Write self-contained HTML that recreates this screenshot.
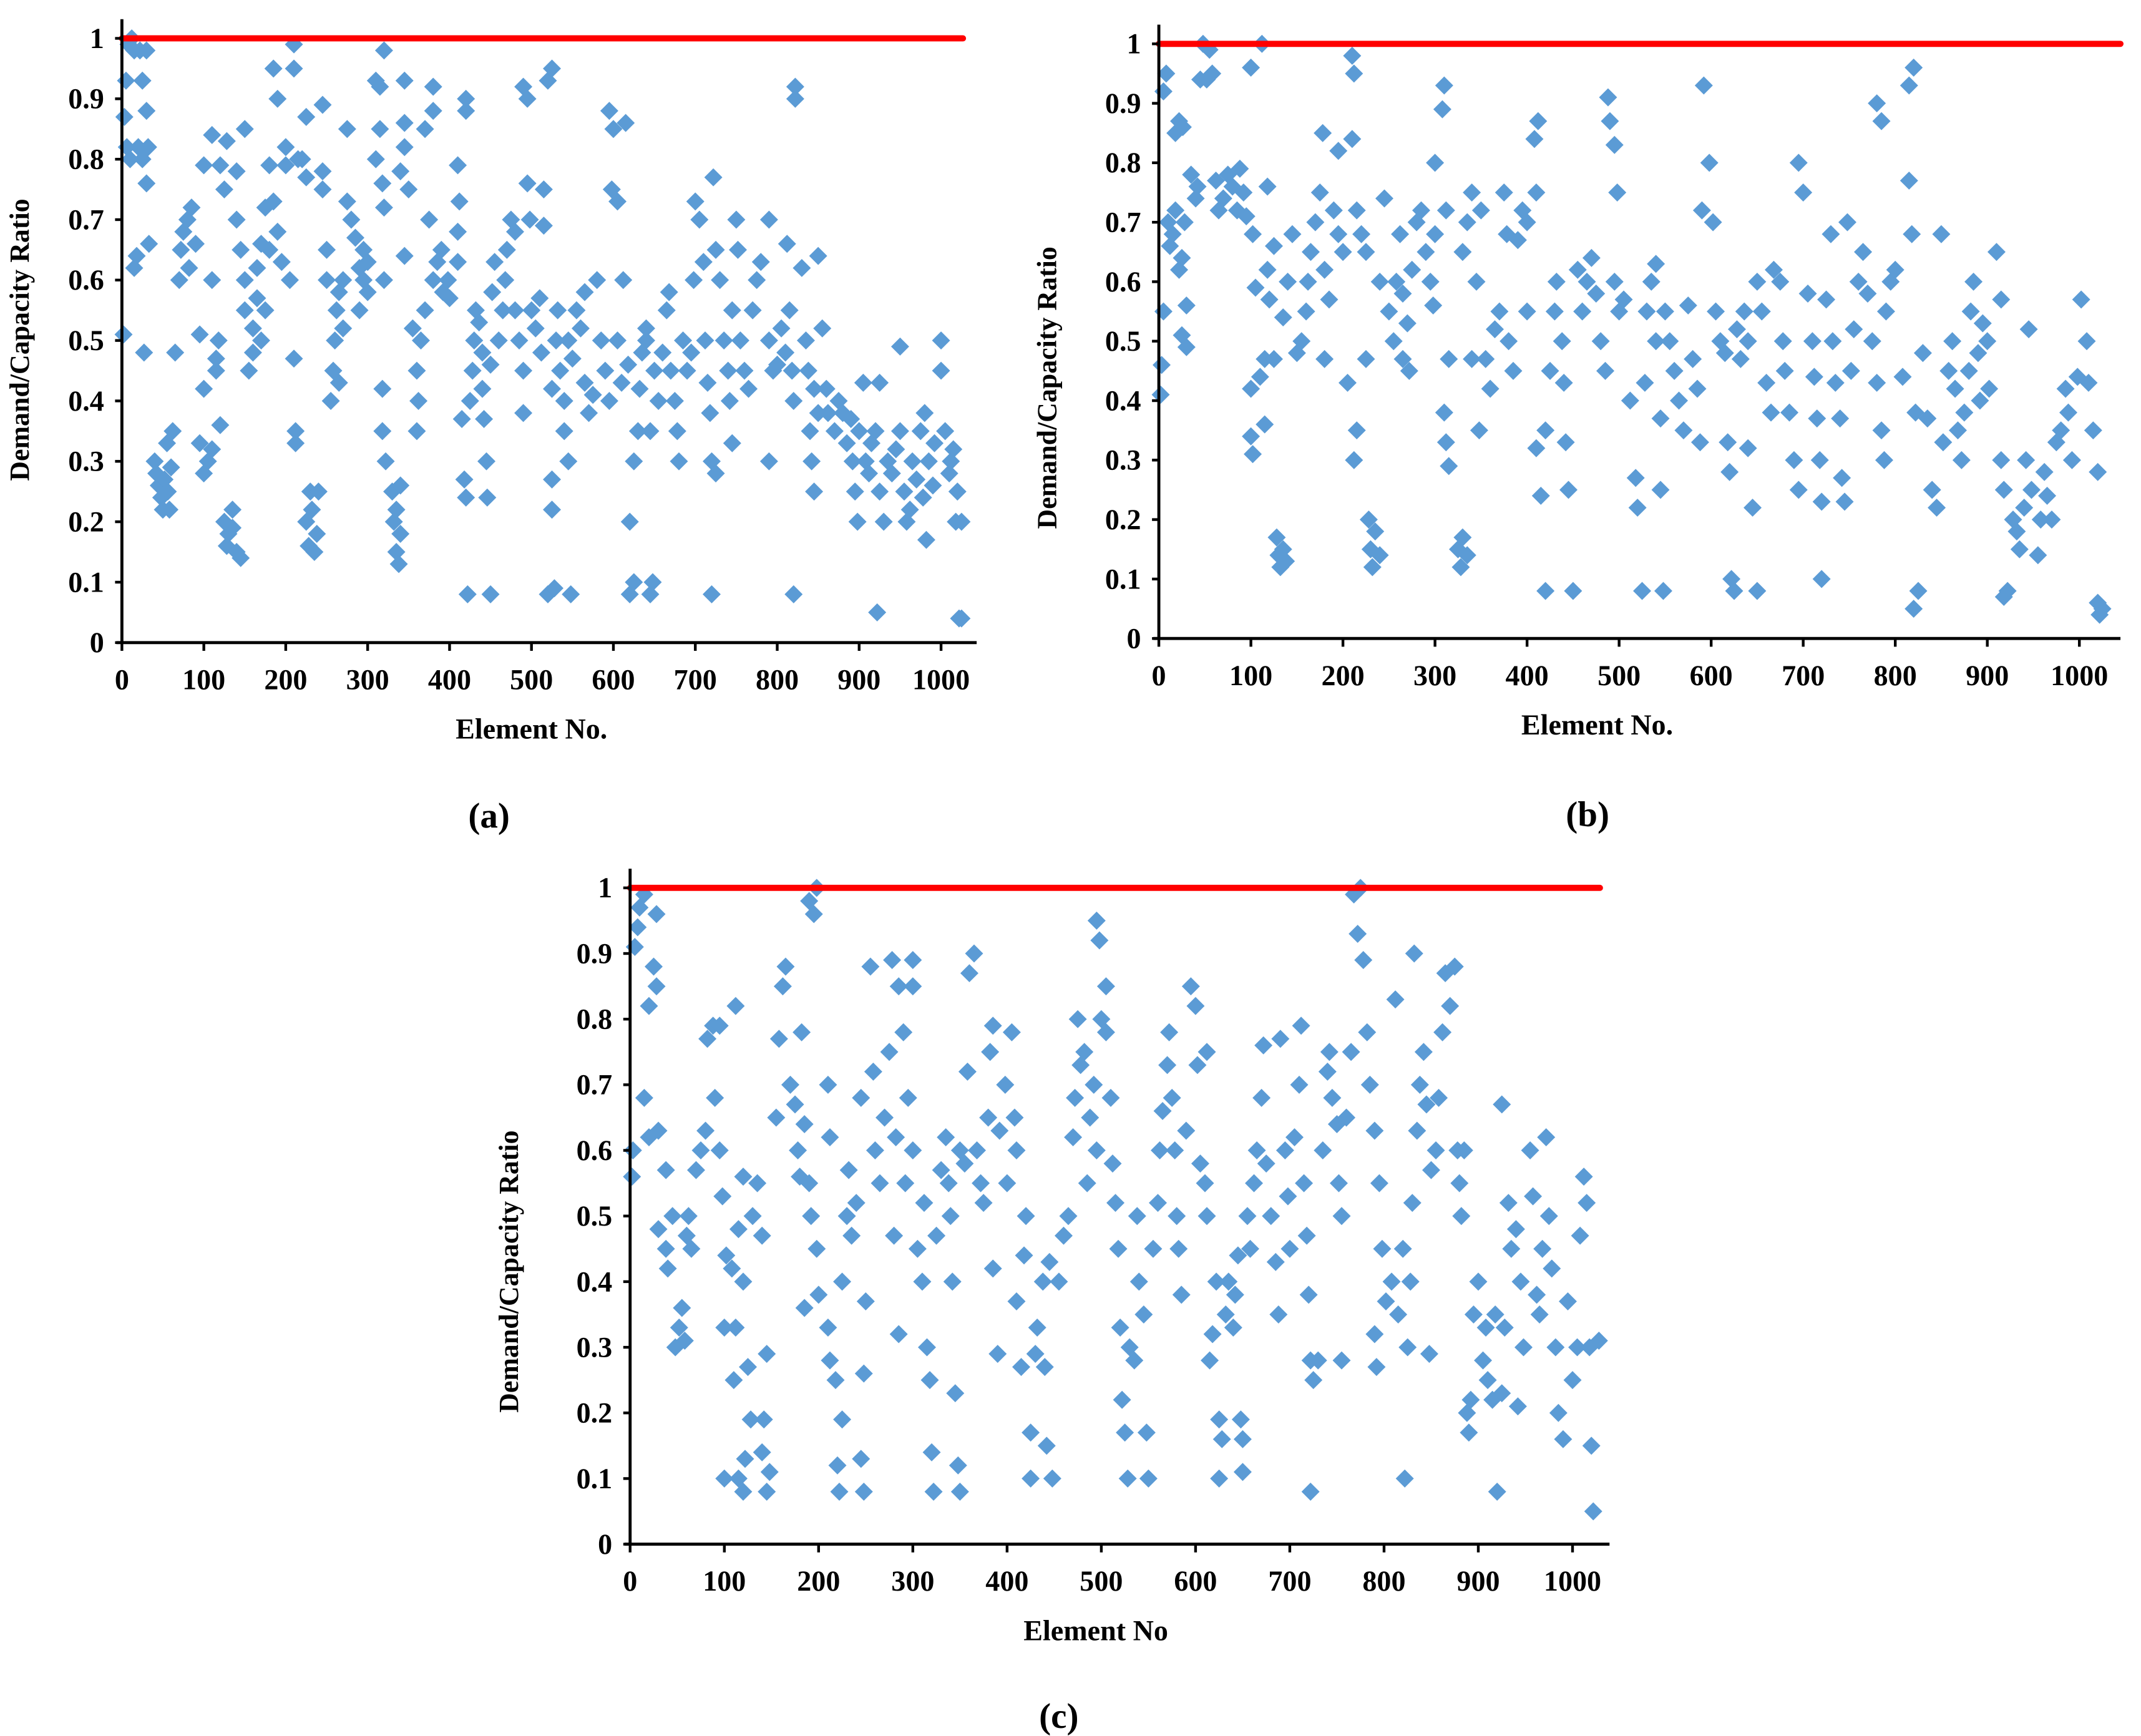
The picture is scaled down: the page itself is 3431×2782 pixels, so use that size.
<!DOCTYPE html>
<html><head><meta charset="utf-8"><style>
html,body{margin:0;padding:0;background:#fff;}
svg{display:block;}
svg text{font-family:"Liberation Serif","Times New Roman",serif;font-weight:bold;fill:#000;}
</style></head><body>
<svg id="chart" width="3431" height="2782" viewBox="0 0 1563 1267" preserveAspectRatio="none" xmlns="http://www.w3.org/2000/svg"></svg>
<script>
const xTicks = [0,100,200,300,400,500,600,700,800,900,1000];
const yTicks = [0,0.1,0.2,0.3,0.4,0.5,0.6,0.7,0.8,0.9,1];
const yTickLabels = ["0","0.1","0.2","0.3","0.4","0.5","0.6","0.7","0.8","0.9","1"];
const limitValue = 1;
const pointsA = [[2,0.51],[3,0.87],[5,0.93],[6,0.82],[10,0.8],[8,0.99],[12,1.0],[15,0.98],[15,0.62],[18,0.64],[20,0.82],[22,0.98],[25,0.93],[25,0.8],[27,0.48],[30,0.88],[30,0.76],[32,0.82],[33,0.66],[30,0.98],
[40,0.3],[42,0.28],[45,0.26],[48,0.24],[50,0.22],[55,0.33],[52,0.27],[56,0.25],[58,0.22],[60,0.29],[62,0.35],
[65,0.48],[70,0.6],[72,0.65],[75,0.68],[80,0.7],[82,0.62],[85,0.72],[90,0.66],[95,0.51],[100,0.42],[95,0.33],[100,0.28],[100,0.79],[105,0.3],
[110,0.84],[110,0.6],[115,0.47],[118,0.5],[115,0.45],[120,0.36],[110,0.32],[120,0.79],[125,0.75],[128,0.83],[125,0.2],[128,0.16],[130,0.18],[135,0.22],[140,0.15],[135,0.19],[145,0.14],[140,0.78],[140,0.7],[145,0.65],[150,0.85],[150,0.55],[150,0.6],
[155,0.45],[160,0.48],[160,0.52],[165,0.57],[165,0.62],[170,0.5],[170,0.66],[175,0.72],[180,0.79],[185,0.95],[185,0.73],[190,0.68],[195,0.63],[200,0.82],[200,0.79],[205,0.6],[180,0.65],[175,0.55],[190,0.9],
[210,0.99],[210,0.95],[210,0.47],[212,0.35],[212,0.33],[215,0.8],[220,0.8],[225,0.77],[225,0.87],[225,0.2],[228,0.16],[230,0.25],[232,0.22],[235,0.15],[238,0.18],[240,0.25],[245,0.78],[245,0.75],[245,0.89],[250,0.6],[250,0.65],[255,0.4],
[258,0.45],[260,0.5],[262,0.55],[265,0.43],[265,0.58],[270,0.52],[270,0.6],[275,0.85],[275,0.73],[280,0.7],[285,0.67],[290,0.62],[295,0.6],[290,0.55],[295,0.65],[300,0.58],[300,0.63],
[310,0.93],[320,0.98],[315,0.92],[310,0.8],[318,0.76],[315,0.85],[320,0.72],[320,0.6],[318,0.42],[318,0.35],[322,0.3],[330,0.25],[332,0.2],[335,0.15],[338,0.13],[340,0.18],[335,0.22],[340,0.26],[340,0.78],[345,0.82],[345,0.86],[345,0.93],[350,0.75],[345,0.64],
[355,0.52],[360,0.45],[362,0.4],[360,0.35],[365,0.5],[370,0.55],[375,0.7],[380,0.88],[380,0.92],[380,0.6],[385,0.63],[390,0.65],[392,0.58],[398,0.6],[400,0.57],[370,0.85],
[410,0.79],[410,0.68],[412,0.73],[410,0.63],[420,0.88],[420,0.9],[415,0.37],[418,0.27],[420,0.24],[422,0.08],[425,0.4],[428,0.45],[430,0.5],[432,0.55],[436,0.53],[440,0.48],[440,0.42],[442,0.37],[445,0.3],[446,0.24],[450,0.08],[450,0.46],[452,0.58],[455,0.63],
[460,0.5],[465,0.55],[468,0.6],[470,0.65],[475,0.7],[480,0.68],[480,0.55],[485,0.5],[490,0.45],[490,0.38],[490,0.92],[495,0.9],[495,0.76],[498,0.7],[500,0.55],[505,0.52],
[510,0.57],[512,0.48],[515,0.69],[515,0.75],[520,0.93],[525,0.95],[520,0.08],[528,0.09],[525,0.27],[525,0.22],[525,0.42],[530,0.5],[532,0.55],[535,0.45],[540,0.4],[540,0.35],[545,0.3],[548,0.08],[545,0.5],[550,0.47],
[555,0.55],[560,0.52],[565,0.58],[565,0.43],[570,0.38],[575,0.41],[580,0.6],[585,0.5],[590,0.45],[595,0.4],[598,0.75],[595,0.88],[600,0.85],
[605,0.73],[605,0.5],[610,0.43],[612,0.6],[615,0.86],[618,0.46],[620,0.2],[620,0.08],[625,0.1],[625,0.3],[630,0.35],[632,0.42],[635,0.48],[640,0.5],[640,0.52],[645,0.08],[648,0.1],[645,0.35],[650,0.45],[655,0.4],
[660,0.48],[665,0.55],[668,0.58],[670,0.45],[675,0.4],[678,0.35],[680,0.3],[685,0.5],[690,0.45],[695,0.48],[698,0.6],[700,0.73],
[705,0.7],[710,0.63],[712,0.5],[715,0.43],[718,0.38],[720,0.3],[725,0.28],[720,0.08],[722,0.77],[725,0.65],[730,0.6],[735,0.5],[740,0.45],[742,0.4],[745,0.33],[745,0.55],[750,0.7],[752,0.65],
[755,0.5],[760,0.45],[765,0.42],[770,0.55],[775,0.6],[780,0.63],[790,0.7],[790,0.5],[795,0.45],[790,0.3],[800,0.46],[805,0.52],[810,0.48],
[812,0.66],[815,0.55],[818,0.45],[820,0.4],[820,0.08],[822,0.92],[822,0.9],[830,0.62],[835,0.5],[838,0.45],[840,0.35],[842,0.3],[845,0.25],[845,0.42],[850,0.64],[850,0.38],
[855,0.52],[860,0.42],[862,0.38],[870,0.35],[875,0.4],[880,0.38],[885,0.33],[890,0.37],[892,0.3],[895,0.25],[898,0.2],[900,0.35],
[905,0.43],[908,0.3],[912,0.28],[915,0.33],[920,0.35],[922,0.05],[925,0.43],[925,0.25],[930,0.2],[935,0.3],[940,0.28],[945,0.32],[950,0.35],[950,0.49],
[955,0.25],[958,0.2],[962,0.22],[965,0.3],[970,0.27],[975,0.35],[978,0.24],[980,0.38],[982,0.17],[985,0.3],[990,0.26],[992,0.33],[1000,0.5],[1000,0.45],[1005,0.35],[1010,0.28],[1012,0.3],[1015,0.32],[1018,0.2],[1020,0.25],[1022,0.04],[1025,0.04],[1025,0.2]];
const pointsB = [[2,0.41],[3,0.46],[5,0.55],[5,0.92],[8,0.95],[10,0.7],[12,0.66],[15,0.68],[18,0.72],[18,0.85],[22,0.87],[26,0.86],[22,0.62],[25,0.51],[30,0.49],[30,0.56],[28,0.7],[25,0.64],
[35,0.78],[40,0.74],[42,0.76],[45,0.94],[48,1.0],[55,0.99],[52,0.94],[58,0.95],[62,0.77],[65,0.72],[70,0.74],[75,0.78],[80,0.76],[85,0.72],[88,0.79],[92,0.75],[95,0.71],[100,0.96],[112,1.0],
[102,0.68],[105,0.59],[100,0.42],[100,0.34],[102,0.31],[110,0.44],[115,0.47],[115,0.36],[118,0.62],[120,0.57],[118,0.76],[125,0.66],[128,0.17],[130,0.14],[132,0.12],[135,0.15],[138,0.13],[125,0.47],[135,0.54],[140,0.6],[145,0.68],[150,0.48],
[155,0.5],[160,0.55],[162,0.6],[165,0.65],[170,0.7],[175,0.75],[178,0.85],[180,0.62],[185,0.57],[180,0.47],[190,0.72],[195,0.68],[195,0.82],[200,0.65],[205,0.43],
[210,0.98],[212,0.95],[210,0.84],[212,0.3],[215,0.35],[215,0.72],[220,0.68],[225,0.65],[225,0.47],[228,0.2],[230,0.15],[232,0.12],[235,0.18],[240,0.14],[240,0.6],[245,0.74],[250,0.55],[255,0.5],
[258,0.6],[262,0.68],[265,0.58],[265,0.47],[270,0.53],[272,0.45],[275,0.62],[280,0.7],[285,0.72],[290,0.65],[295,0.6],[298,0.56],[300,0.68],[300,0.8],
[310,0.93],[308,0.89],[312,0.72],[315,0.47],[310,0.38],[312,0.33],[315,0.29],[325,0.15],[328,0.12],[330,0.17],[335,0.14],[330,0.65],[335,0.7],[340,0.75],[345,0.6],[340,0.47],[348,0.35],[350,0.72],
[355,0.47],[360,0.42],[365,0.52],[370,0.55],[375,0.75],[378,0.68],[380,0.5],[385,0.45],[390,0.67],[395,0.72],[400,0.7],[400,0.55],
[410,0.75],[412,0.87],[408,0.84],[410,0.32],[415,0.24],[420,0.08],[420,0.35],[425,0.45],[430,0.55],[432,0.6],[438,0.5],[440,0.43],[442,0.33],[445,0.25],[450,0.08],[455,0.62],
[460,0.55],[465,0.6],[470,0.64],[475,0.58],[480,0.5],[485,0.45],[488,0.91],[490,0.87],[495,0.83],[495,0.6],[498,0.75],[500,0.55],[505,0.57],
[512,0.4],[518,0.27],[520,0.22],[525,0.08],[528,0.43],[530,0.55],[535,0.6],[540,0.5],[540,0.63],[545,0.37],[545,0.25],[548,0.08],[550,0.55],
[555,0.5],[560,0.45],[565,0.4],[570,0.35],[575,0.56],[580,0.47],[585,0.42],[588,0.33],[590,0.72],[592,0.93],[598,0.8],
[602,0.7],[605,0.55],[610,0.5],[615,0.48],[618,0.33],[620,0.28],[622,0.1],[625,0.08],[628,0.52],[632,0.47],[636,0.55],[640,0.5],[640,0.32],[645,0.22],[650,0.08],[650,0.6],
[655,0.55],[660,0.43],[665,0.38],[668,0.62],[675,0.6],[678,0.5],[680,0.45],[685,0.38],[690,0.3],[695,0.25],[695,0.8],[700,0.75],
[705,0.58],[710,0.5],[712,0.44],[715,0.37],[718,0.3],[720,0.23],[720,0.1],[725,0.57],[730,0.68],[732,0.5],[735,0.43],[740,0.37],[745,0.23],[742,0.27],[748,0.7],
[752,0.45],[755,0.52],[760,0.6],[765,0.65],[770,0.58],[775,0.5],[780,0.43],[785,0.35],[788,0.3],[790,0.55],[780,0.9],[785,0.87],[795,0.6],[800,0.62],
[808,0.44],[815,0.93],[820,0.96],[815,0.77],[818,0.68],[822,0.38],[820,0.05],[825,0.08],[830,0.48],[835,0.37],[840,0.25],[845,0.22],[850,0.68],[852,0.33],
[858,0.45],[862,0.5],[865,0.42],[868,0.35],[872,0.3],[875,0.38],[880,0.45],[882,0.55],[885,0.6],[890,0.48],[892,0.4],[895,0.53],[900,0.5],[902,0.42],
[910,0.65],[915,0.57],[915,0.3],[918,0.25],[918,0.07],[922,0.08],[928,0.2],[932,0.18],[935,0.15],[940,0.22],[945,0.52],[942,0.3],[948,0.25],
[955,0.14],[958,0.2],[962,0.28],[965,0.24],[970,0.2],[975,0.33],[980,0.35],[985,0.42],[988,0.38],[992,0.3],[998,0.44],[1002,0.57],[1008,0.5],[1010,0.43],[1015,0.35],[1020,0.28],[1020,0.06],[1022,0.04],[1025,0.05]];
const pointsC = [[2,0.56],[3,0.6],[5,0.91],[8,0.94],[10,0.97],[15,0.99],[15,0.68],[20,0.62],[20,0.82],[25,0.88],[28,0.85],[28,0.96],[30,0.63],[30,0.48],[38,0.45],[45,0.5],[40,0.42],[38,0.57],
[48,0.3],[52,0.33],[55,0.36],[58,0.31],[60,0.47],[62,0.5],[65,0.45],[70,0.57],[75,0.6],[80,0.63],[82,0.77],[88,0.79],[90,0.68],[95,0.6],[98,0.53],[95,0.79],
[100,0.1],[100,0.33],[102,0.44],[108,0.42],[110,0.25],[112,0.33],[115,0.1],[120,0.08],[122,0.13],[115,0.48],[120,0.56],[112,0.82],[120,0.4],[125,0.27],[128,0.19],[130,0.5],[135,0.55],[140,0.47],[140,0.14],[142,0.19],[145,0.08],[145,0.29],[148,0.11],
[155,0.65],[158,0.77],[162,0.85],[165,0.88],[170,0.7],[175,0.67],[178,0.6],[180,0.56],[182,0.78],[185,0.64],[190,0.55],[192,0.5],[198,0.45],[190,0.98],[195,0.96],[198,1.0],[185,0.36],[200,0.38],
[210,0.7],[212,0.62],[210,0.33],[212,0.28],[218,0.25],[220,0.12],[222,0.08],[225,0.19],[225,0.4],[230,0.5],[232,0.57],[235,0.47],[240,0.52],[245,0.68],[245,0.13],[248,0.08],[248,0.26],[250,0.37],
[255,0.88],[258,0.72],[260,0.6],[265,0.55],[270,0.65],[275,0.75],[278,0.89],[285,0.85],[282,0.62],[290,0.78],[292,0.55],[280,0.47],[285,0.32],[295,0.68],[300,0.6],[300,0.85],[300,0.89],
[305,0.45],[310,0.4],[312,0.52],[315,0.3],[318,0.25],[320,0.14],[322,0.08],[325,0.47],[330,0.57],[335,0.62],[338,0.55],[340,0.5],[342,0.4],[345,0.23],[348,0.12],[350,0.08],[350,0.6],
[355,0.58],[358,0.72],[360,0.87],[365,0.9],[368,0.6],[372,0.55],[375,0.52],[380,0.65],[382,0.75],[385,0.79],[385,0.42],[390,0.29],[392,0.63],[398,0.7],[400,0.55],
[405,0.78],[408,0.65],[410,0.6],[410,0.37],[415,0.27],[418,0.44],[420,0.5],[425,0.17],[425,0.1],[430,0.29],[432,0.33],[438,0.4],[440,0.27],[442,0.15],[448,0.1],[445,0.43],
[455,0.4],[460,0.47],[465,0.5],[470,0.62],[472,0.68],[475,0.8],[478,0.73],[482,0.75],[485,0.55],[488,0.65],[492,0.7],[495,0.6],[495,0.95],[498,0.92],[500,0.8],[505,0.85],
[505,0.78],[510,0.68],[512,0.58],[515,0.52],[518,0.45],[520,0.33],[522,0.22],[525,0.17],[528,0.1],[530,0.3],[535,0.28],[538,0.5],[540,0.4],[545,0.35],[548,0.17],[550,0.1],
[555,0.45],[560,0.52],[562,0.6],[565,0.66],[570,0.73],[572,0.78],[575,0.68],[578,0.6],[580,0.5],[582,0.45],[585,0.38],[590,0.63],[595,0.85],[600,0.82],[602,0.73],
[605,0.58],[610,0.55],[612,0.5],[612,0.75],[615,0.28],[618,0.32],[622,0.4],[625,0.19],[625,0.1],[628,0.16],[632,0.35],[635,0.4],[640,0.33],[642,0.38],[645,0.44],[648,0.19],[650,0.11],[650,0.16],
[655,0.5],[658,0.45],[662,0.55],[665,0.6],[670,0.68],[672,0.76],[675,0.58],[680,0.5],[685,0.43],[688,0.35],[690,0.77],[695,0.6],[698,0.53],[700,0.45],
[705,0.62],[710,0.7],[712,0.79],[715,0.55],[718,0.47],[720,0.38],[722,0.28],[722,0.08],[725,0.25],[730,0.28],[735,0.6],[740,0.72],[742,0.75],[745,0.68],[750,0.64],
[752,0.55],[755,0.5],[755,0.28],[760,0.65],[765,0.75],[768,0.99],[775,1.0],[772,0.93],[778,0.89],[782,0.78],[785,0.7],[790,0.63],[790,0.32],[792,0.27],[795,0.55],[798,0.45],
[802,0.37],[808,0.4],[812,0.83],[815,0.35],[820,0.45],[822,0.1],[825,0.3],[828,0.4],[830,0.52],[835,0.63],[832,0.9],[838,0.7],[842,0.75],[845,0.67],[848,0.29],[850,0.57],
[855,0.6],[858,0.68],[862,0.78],[865,0.87],[870,0.82],[875,0.88],[878,0.6],[880,0.55],[882,0.5],[885,0.6],[888,0.2],[890,0.17],[892,0.22],[895,0.35],[900,0.4],
[905,0.28],[908,0.33],[910,0.25],[915,0.22],[918,0.35],[920,0.08],[925,0.23],[928,0.33],[925,0.67],[932,0.52],[935,0.45],[940,0.48],[945,0.4],[948,0.3],[942,0.21],
[955,0.6],[958,0.53],[962,0.38],[965,0.35],[968,0.45],[972,0.62],[975,0.5],[978,0.42],[982,0.3],[985,0.2],[990,0.16],[995,0.37],[1000,0.25],[1005,0.3],[1008,0.47],[1012,0.56],[1015,0.52],[1018,0.3],[1020,0.15],[1022,0.05],[1028,0.31]];

const NS = "http://www.w3.org/2000/svg";
const FONT = '"Liberation Serif", "Times New Roman", serif';
const svg = document.getElementById("chart");
function mk(tag, attrs, parent) {
  const e = document.createElementNS(NS, tag);
  for (const k in attrs) e.setAttribute(k, attrs[k]);
  if (tag === "text") { e.setAttribute("font-family", FONT); }
  parent.appendChild(e);
  return e;
}

function drawPanel(id, pts, cfg) {
  const g = mk("g", {}, svg);
  
  
  const xs = v => cfg.x0 + (v / 1000) * cfg.xw;
  const ys = v => cfg.y0 - v * (cfg.y0 - cfg.y1);
  const pg = mk("g", {fill: "#5b9bd5"}, g);
  
  
  const r = 6.6;
  pts.forEach(p => {
    const cx = xs(p[0]), cy = ys(p[1]);
    const d = mk("polygon", {points: `${cx},${cy-r} ${cx+r},${cy} ${cx},${cy+r} ${cx-r},${cy}`}, pg);
    
    
  });
  const rl = mk("line", {x1: cfg.x0, x2: cfg.redEnd, y1: ys(limitValue), y2: ys(limitValue), stroke: "#ff0000", "stroke-width": 4.5, "stroke-linecap": "round"}, g);
  
  
  const ya = mk("line", {x1: cfg.x0, x2: cfg.x0, y1: cfg.y1 - 14, y2: cfg.y0, stroke: "#000", "stroke-width": 2.2}, g);
  
  
  const xa = mk("line", {x1: cfg.x0 - 4, x2: cfg.xEnd, y1: cfg.y0, y2: cfg.y0, stroke: "#000", "stroke-width": 2.2}, g);
  
  
  yTicks.forEach((v, i) => {
    const y = ys(v);
    mk("line", {x1: cfg.x0 - 5, x2: cfg.x0, y1: y, y2: y, stroke: "#000", "stroke-width": 2}, g);
    const t = mk("text", {x: cfg.x0 - 13, y: y + 7, "text-anchor": "end", "font-size": 21, "font-weight": "bold"}, g);
    t.textContent = yTickLabels[i];
    
    
  });
  xTicks.forEach(v => {
    const x = xs(v);
    mk("line", {x1: x, x2: x, y1: cfg.y0, y2: cfg.y0 + 6, stroke: "#000", "stroke-width": 2}, g);
    const t = mk("text", {x: x, y: cfg.y0 + 34, "text-anchor": "middle", "font-size": 21, "font-weight": "bold"}, g);
    t.textContent = String(v);
    
    
  });
  const xt = mk("text", {x: cfg.xTitleX, y: cfg.y0 + 70, "text-anchor": "middle", "font-size": 21, "font-weight": "bold"}, g);
  xt.textContent = cfg.xTitle;
  
  
  const yt = mk("text", {x: 0, y: 0, "text-anchor": "middle", "font-size": 20, "font-weight": "bold", transform: `translate(${cfg.yTitleX},${cfg.yTitleY}) rotate(-90)`}, g);
  yt.textContent = "Demand/Capacity  Ratio";
  
  
  const lab = mk("text", {x: cfg.labX, y: cfg.labY, "text-anchor": "middle", "font-size": 26, "font-weight": "normal"}, g);
  lab.innerHTML = '(<tspan font-weight="bold">' + id + '</tspan>)';
  
  
}

drawPanel("a", pointsA, {x0: 89, xw: 598, xEnd: 713, y0: 469, y1: 28, redEnd: 703, xTitle: "Element No.", xTitleX: 388, yTitleX: 21, yTitleY: 248, labX: 357, labY: 604});
drawPanel("b", pointsB, {x0: 846, xw: 672, xEnd: 1548, y0: 466, y1: 32, redEnd: 1548, xTitle: "Element No.", xTitleX: 1166, yTitleX: 771, yTitleY: 283, labX: 1159, labY: 603});
drawPanel("c", pointsC, {x0: 460, xw: 688, xEnd: 1175, y0: 1127, y1: 648, redEnd: 1168, xTitle: "Element No", xTitleX: 800, yTitleX: 378, yTitleY: 928, labX: 773, labY: 1261});
</script>
</body></html>
